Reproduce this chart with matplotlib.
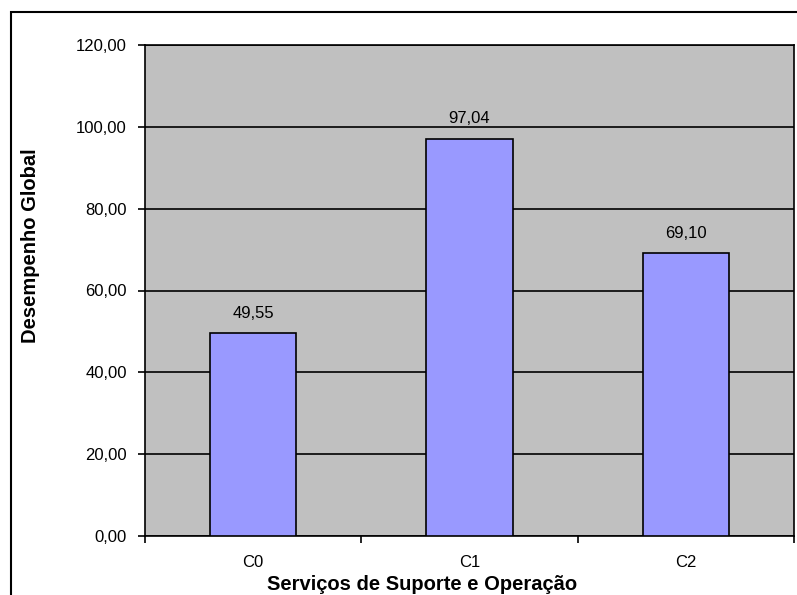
import matplotlib
matplotlib.use("Agg")
import matplotlib.pyplot as plt
from matplotlib.patches import Rectangle
import numpy as np

categories = ["C0", "C1", "C2"]
values = [49.55, 97.04, 69.10]
yticks = [0, 20, 40, 60, 80, 100, 120]

W, H = 797, 595
fig = plt.figure(figsize=(W / 100, H / 100), dpi=100)
plt.rcParams['font.family'] = ['Liberation Sans', 'DejaVu Sans']

# plot area in pixels
L, R, T, B = 145, 794, 45, 536
ax = fig.add_axes([L / W, 1 - B / H, (R - L) / W, (B - T) / H])
ax.set_facecolor("#C0C0C0")

x = np.arange(len(categories))
bars = ax.bar(x, values, width=0.4, color="#9999FF", edgecolor="black",
              linewidth=1.2, zorder=3)
ax.set_xlim(-0.5, len(categories) - 0.5)
ax.set_ylim(0, 120)

ax.set_yticks(yticks)
ax.set_yticklabels([f"{v:.2f}".replace(".", ",") for v in yticks], fontsize=12)
ax.yaxis.grid(True, color="black", linewidth=1.2, zorder=1)
ax.set_axisbelow(True)

# category labels at centers (no ticks), tick marks at boundaries
ax.set_xticks(x)
ax.set_xticklabels(categories, fontsize=12)
ax.tick_params(axis="x", length=0, pad=14)
ax.set_xticks(np.arange(len(categories) + 1) - 0.5, minor=True)
ax.tick_params(axis="x", which="minor", length=5, width=1.2, direction="out")
ax.tick_params(axis="y", length=5, width=1.2, direction="out", pad=8)

for s in ax.spines.values():
    s.set_linewidth(1.2)
    s.set_color("black")

for xi, v in zip(x, values):
    ax.annotate(f"{v:.2f}".replace(".", ","), (xi, v), xytext=(0, 9),
                textcoords="offset points", ha="center", va="bottom",
                fontsize=12, zorder=4)

fig.text(31 / W, 1 - 246 / H, "Desempenho Global", rotation=90,
         ha="center", va="center", fontsize=14.5, fontweight="bold")
fig.text(422 / W, 1 - 584 / H, "Serviços de Suporte e Operação",
         ha="center", va="center", fontsize=14.5, fontweight="bold")

# outer chart border (cropped at right/bottom)
fig.patches.append(Rectangle((11 / W, -0.1), 1.2, 1 - 12 / H + 0.1,
                             transform=fig.transFigure, fill=False,
                             edgecolor="black", linewidth=1.5))

fig.savefig("out.png", dpi=100)
